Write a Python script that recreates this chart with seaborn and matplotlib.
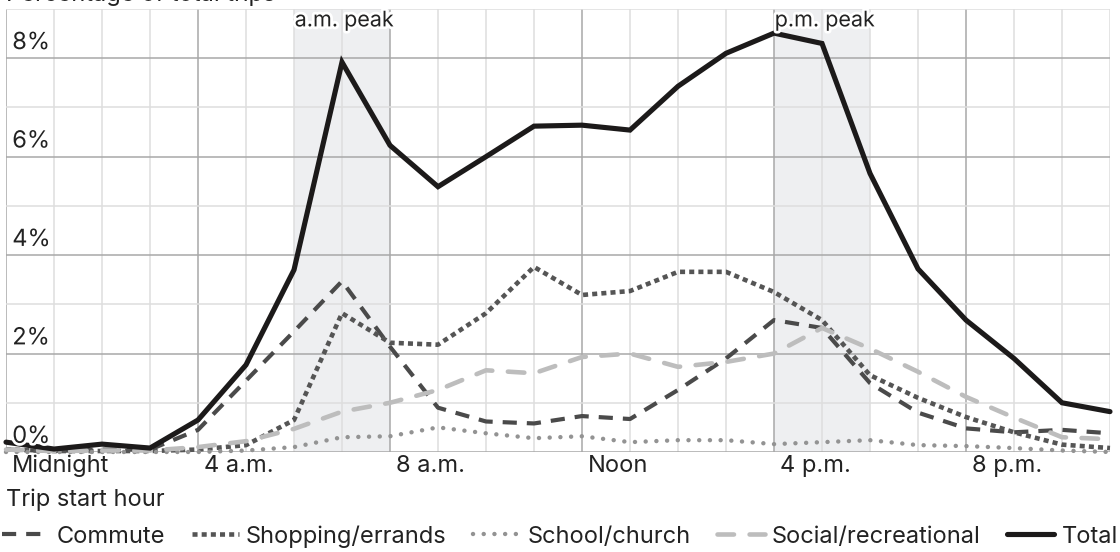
import pandas as pd
import matplotlib
matplotlib.use("Agg")
import matplotlib.pyplot as plt
import matplotlib.patheffects as pe
from matplotlib.transforms import offset_copy
import seaborn as sns

# share of trips by start hour (%)
hours = list(range(24))
commute = [0.05, 0.02, 0.05, 0.05, 0.45, 1.45, 2.45, 3.47, 2.14, 0.90, 0.62, 0.58,
           0.73, 0.67, 1.26, 1.90, 2.68, 2.52, 1.40, 0.80, 0.48, 0.40, 0.45, 0.38]
shopping = [0.05, 0.02, 0.02, 0.02, 0.05, 0.14, 0.65, 2.82, 2.22, 2.18, 2.82, 3.76,
            3.19, 3.27, 3.66, 3.66, 3.25, 2.68, 1.56, 1.10, 0.71, 0.40, 0.15, 0.08]
school = [0.00, 0.00, 0.00, 0.00, 0.00, 0.03, 0.10, 0.30, 0.32, 0.50, 0.38, 0.28,
          0.32, 0.20, 0.24, 0.24, 0.16, 0.20, 0.24, 0.14, 0.12, 0.08, 0.03, 0.00]
social = [0.05, 0.02, 0.03, 0.03, 0.10, 0.22, 0.47, 0.82, 1.00, 1.26, 1.66, 1.60,
          1.93, 2.00, 1.73, 1.83, 2.00, 2.52, 2.10, 1.63, 1.12, 0.70, 0.30, 0.26]
total = [0.20, 0.06, 0.16, 0.08, 0.65, 1.77, 3.70, 7.92, 6.23, 5.39, 6.00, 6.62,
         6.64, 6.54, 7.43, 8.10, 8.51, 8.30, 5.66, 3.72, 2.68, 1.90, 1.00, 0.82]

series_names = ["Commute", "Shopping/errands", "School/church", "Social/recreational", "Total"]
hour_ticks = [0, 4, 8, 12, 16, 20]
hour_labels = ["Midnight", "4 a.m.", "8 a.m.", "Noon", "4 p.m.", "8 p.m."]
pct_ticks = [0, 2, 4, 6, 8]
peaks = [(6, 8, "a.m. peak"), (16, 18, "p.m. peak")]

df = pd.DataFrame({"hour": hours, "Commute": commute, "Shopping/errands": shopping,
                   "School/church": school, "Social/recreational": social, "Total": total})
long = df.melt(id_vars="hour", var_name="purpose", value_name="share")

sns.set_theme(style="white")
plt.rcParams["font.family"] = ["Inter", "DejaVu Sans"]
FS = 17

# color, width, dash pattern, cap
styles = {
    "Commute": ("#4a4a4a", 3.0, (3.4, 2.4), "butt"),
    "Shopping/errands": ("#555555", 3.3, (1.1, 0.9), "butt"),
    "School/church": ("#939393", 3.2, (0.01, 2.4), "round"),
    "Social/recreational": ("#bdbdbd", 3.3, (3.6, 3.4), "round"),
    "Total": ("#1c1a1a", 3.7, None, "butt"),
}

fig = plt.figure(figsize=(11.2, 5.52), dpi=100)
ax = fig.add_axes([6 / 1120, 100 / 552, 1104 / 1120, 443 / 552])

for a, b, _ in peaks:
    ax.axvspan(a, b, color="#eeeff1", zorder=0, lw=0)

handles = []
for name in series_names:
    col, lw, dash, cap = styles[name]
    sub = long[long["purpose"] == name]
    sns.lineplot(data=sub, x="hour", y="share", ax=ax, color=col, lw=lw,
                 errorbar=None, legend=False, zorder=3)
    ln = ax.lines[-1]
    ln.set_clip_on(False)
    if dash is not None:
        ln.set_dashes(dash)
        ln.set_dash_capstyle(cap)
    else:
        ln.set_solid_joinstyle("miter")
    handles.append(ln)

ax.set_xlim(0, 23)
ax.set_ylim(0, 9)
ax.set_xticks(hour_ticks)
ax.set_xticklabels([])
ax.set_xticks(hours, minor=True)
ax.set_yticks(pct_ticks)
ax.set_yticklabels([])
ax.set_yticks(range(10), minor=True)
ax.tick_params(axis="x", which="major", length=20, width=1.1, color="#a8a8a8", direction="out")
ax.tick_params(axis="y", which="major", length=0)
ax.tick_params(which="minor", length=0)
ax.grid(which="minor", color="#dedede", lw=1.1)
ax.grid(which="major", color="#a8a8a8", lw=1.1)
ax.set_axisbelow(True)
for s in ax.spines.values():
    s.set_visible(False)
ax.set_xlabel("")
ax.set_ylabel("")

halo = [pe.withStroke(linewidth=4, foreground="white")]
ytr = offset_copy(ax.transData, fig=fig, x=4.5, y=3, units="points")
for v in pct_ticks:
    ax.text(0, v, f"{v}%", transform=ytr, ha="left", va="bottom", fontsize=FS,
            color="#222222", path_effects=halo, zorder=5)

xtr = offset_copy(ax.get_xaxis_transform(), fig=fig, x=4.5, y=-2, units="points")
for h, lab in zip(hour_ticks, hour_labels):
    ax.text(h, 0, lab, transform=xtr, ha="left", va="top", fontsize=FS, color="#222222")

ptr = offset_copy(ax.get_xaxis_transform(), fig=fig, x=0.5, y=-1, units="points")
for a, b, lab in peaks:
    ax.text(a, 1, lab, transform=ptr, ha="left", va="top", fontsize=FS - 1.5,
            color="#222222", path_effects=halo, zorder=5)

fig.text(6 / 1120, 1 - 1.5 / 552, "Percentage of total trips", fontsize=FS, color="#222222",
         ha="left", va="baseline")
fig.text(6 / 1120, 1 - 506 / 552, "Trip start hour", fontsize=FS, color="#222222",
         ha="left", va="baseline")

fig.legend(handles, series_names, loc="lower left", bbox_to_anchor=(0.002, 0.008, 0.996, 0.06),
           mode="expand", ncol=5, frameon=False, fontsize=FS, handlelength=2.0,
           handletextpad=0.3, borderpad=0, borderaxespad=0, labelcolor="#222222")

fig.savefig("out.png", dpi=100)
